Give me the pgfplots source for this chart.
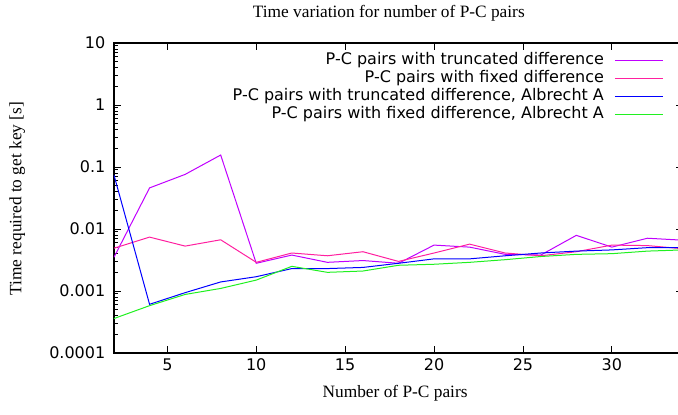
\documentclass[border=0pt]{standalone}
\usepackage{pgfplots}
\pgfplotsset{compat=1.18}
\usepackage{fontspec}
\setmainfont{Liberation Serif}
\newfontfamily\dejavu{DejaVu Sans}

\definecolor{trunc}{RGB}{192,0,255}
\definecolor{fixd}{RGB}{255,32,160}
\definecolor{truncA}{RGB}{0,0,255}
\definecolor{fixdA}{RGB}{32,240,32}

\begin{document}
\begin{tikzpicture}
\begin{axis}[
    at={(0pt,0pt)}, anchor=south west,
    scale only axis,
    width=426.75pt, height=232.5pt,
    ymode=log,
    xmin=2, xmax=34,
    ymin=0.0001, ymax=10,
    xtick={5,10,15,20,25,30},
    ytick={0.0001,0.001,0.01,0.1,1,10},
    yticklabels={0.0001,0.001,0.01,0.1,1,10},
    tick align=inside,
    major tick length=5.25pt,
    minor tick length=3pt,
    tick style={black, line width=0.6pt},
    axis line style={line width=0.8pt},
    /pgf/number format/assume math mode=true,
    ticklabel style={font=\dejavu\fontsize{12}{14}\selectfont},
    yticklabel style={xshift=-3pt},
    xticklabel style={yshift=-1pt},
    title={Time variation for number of P-C pairs},
    title style={font=\fontsize{13}{15}\selectfont, at={(axis description cs:0.483,1.071)}, anchor=center},
    xlabel={Number of P-C pairs},
    xlabel style={font=\fontsize{13}{15}\selectfont, at={(axis description cs:0.494,-0.129)}, anchor=center},
    ylabel={Time required to get key [s]},
    ylabel style={font=\fontsize{13}{15}\selectfont, at={(axis description cs:-0.17,0.498)}, anchor=center, rotate=0},
    legend plot pos=right,
    legend cell align=right,
    legend style={
        at={(0.966,0.975)}, anchor=north east,
        draw=none, fill=none, inner sep=0pt,
        font=\dejavu\fontsize{12}{14}\selectfont,
        column sep=7pt,
        nodes={inner sep=0.85pt, text height=9pt, text depth=3pt},
    },
    legend image code/.code={\draw[#1] (0pt,0pt) -- (36pt,0pt);},
    every axis plot/.append style={line width=0.75pt},
]

\addplot[trunc] coordinates {
    (2,0.0035) (4,0.046) (6,0.076) (8,0.156) (10,0.0028)
    (12,0.0038) (14,0.0029) (16,0.0031) (18,0.0028) (20,0.0055)
    (22,0.0051) (24,0.0039) (26,0.0038) (28,0.0079) (30,0.0051)
    (32,0.0071) (34,0.0066)
};
\addlegendentry{P-C pairs with truncated difference}

\addplot[fixd] coordinates {
    (2,0.0049) (4,0.0074) (6,0.0053) (8,0.0067) (10,0.0029)
    (12,0.0041) (14,0.0037) (16,0.0043) (18,0.0030) (20,0.0041)
    (22,0.0057) (24,0.0041) (26,0.0037) (28,0.0043) (30,0.0055)
    (32,0.0054) (34,0.0048)
};
\addlegendentry{P-C pairs with fixed difference}

\addplot[truncA] coordinates {
    (2,0.074) (4,0.00061) (6,0.00094) (8,0.0014) (10,0.0017)
    (12,0.0023) (14,0.0023) (16,0.0024) (18,0.0028) (20,0.0033)
    (22,0.0033) (24,0.0037) (26,0.0041) (28,0.0044) (30,0.0046)
    (32,0.0050) (34,0.0050)
};
\addlegendentry{P-C pairs with truncated difference, Albrecht A}

\addplot[fixdA] coordinates {
    (2,0.00036) (4,0.00058) (6,0.00088) (8,0.0011) (10,0.0015)
    (12,0.0025) (14,0.0020) (16,0.0021) (18,0.0026) (20,0.0027)
    (22,0.0029) (24,0.0032) (26,0.0036) (28,0.0039) (30,0.0040)
    (32,0.0044) (34,0.0046)
};
\addlegendentry{P-C pairs with fixed difference, Albrecht A}

\end{axis}
\pgfresetboundingbox
\path[use as bounding box] (-85.5pt,-45.75pt) rectangle (423pt,264.75pt);
\end{tikzpicture}
\end{document}
